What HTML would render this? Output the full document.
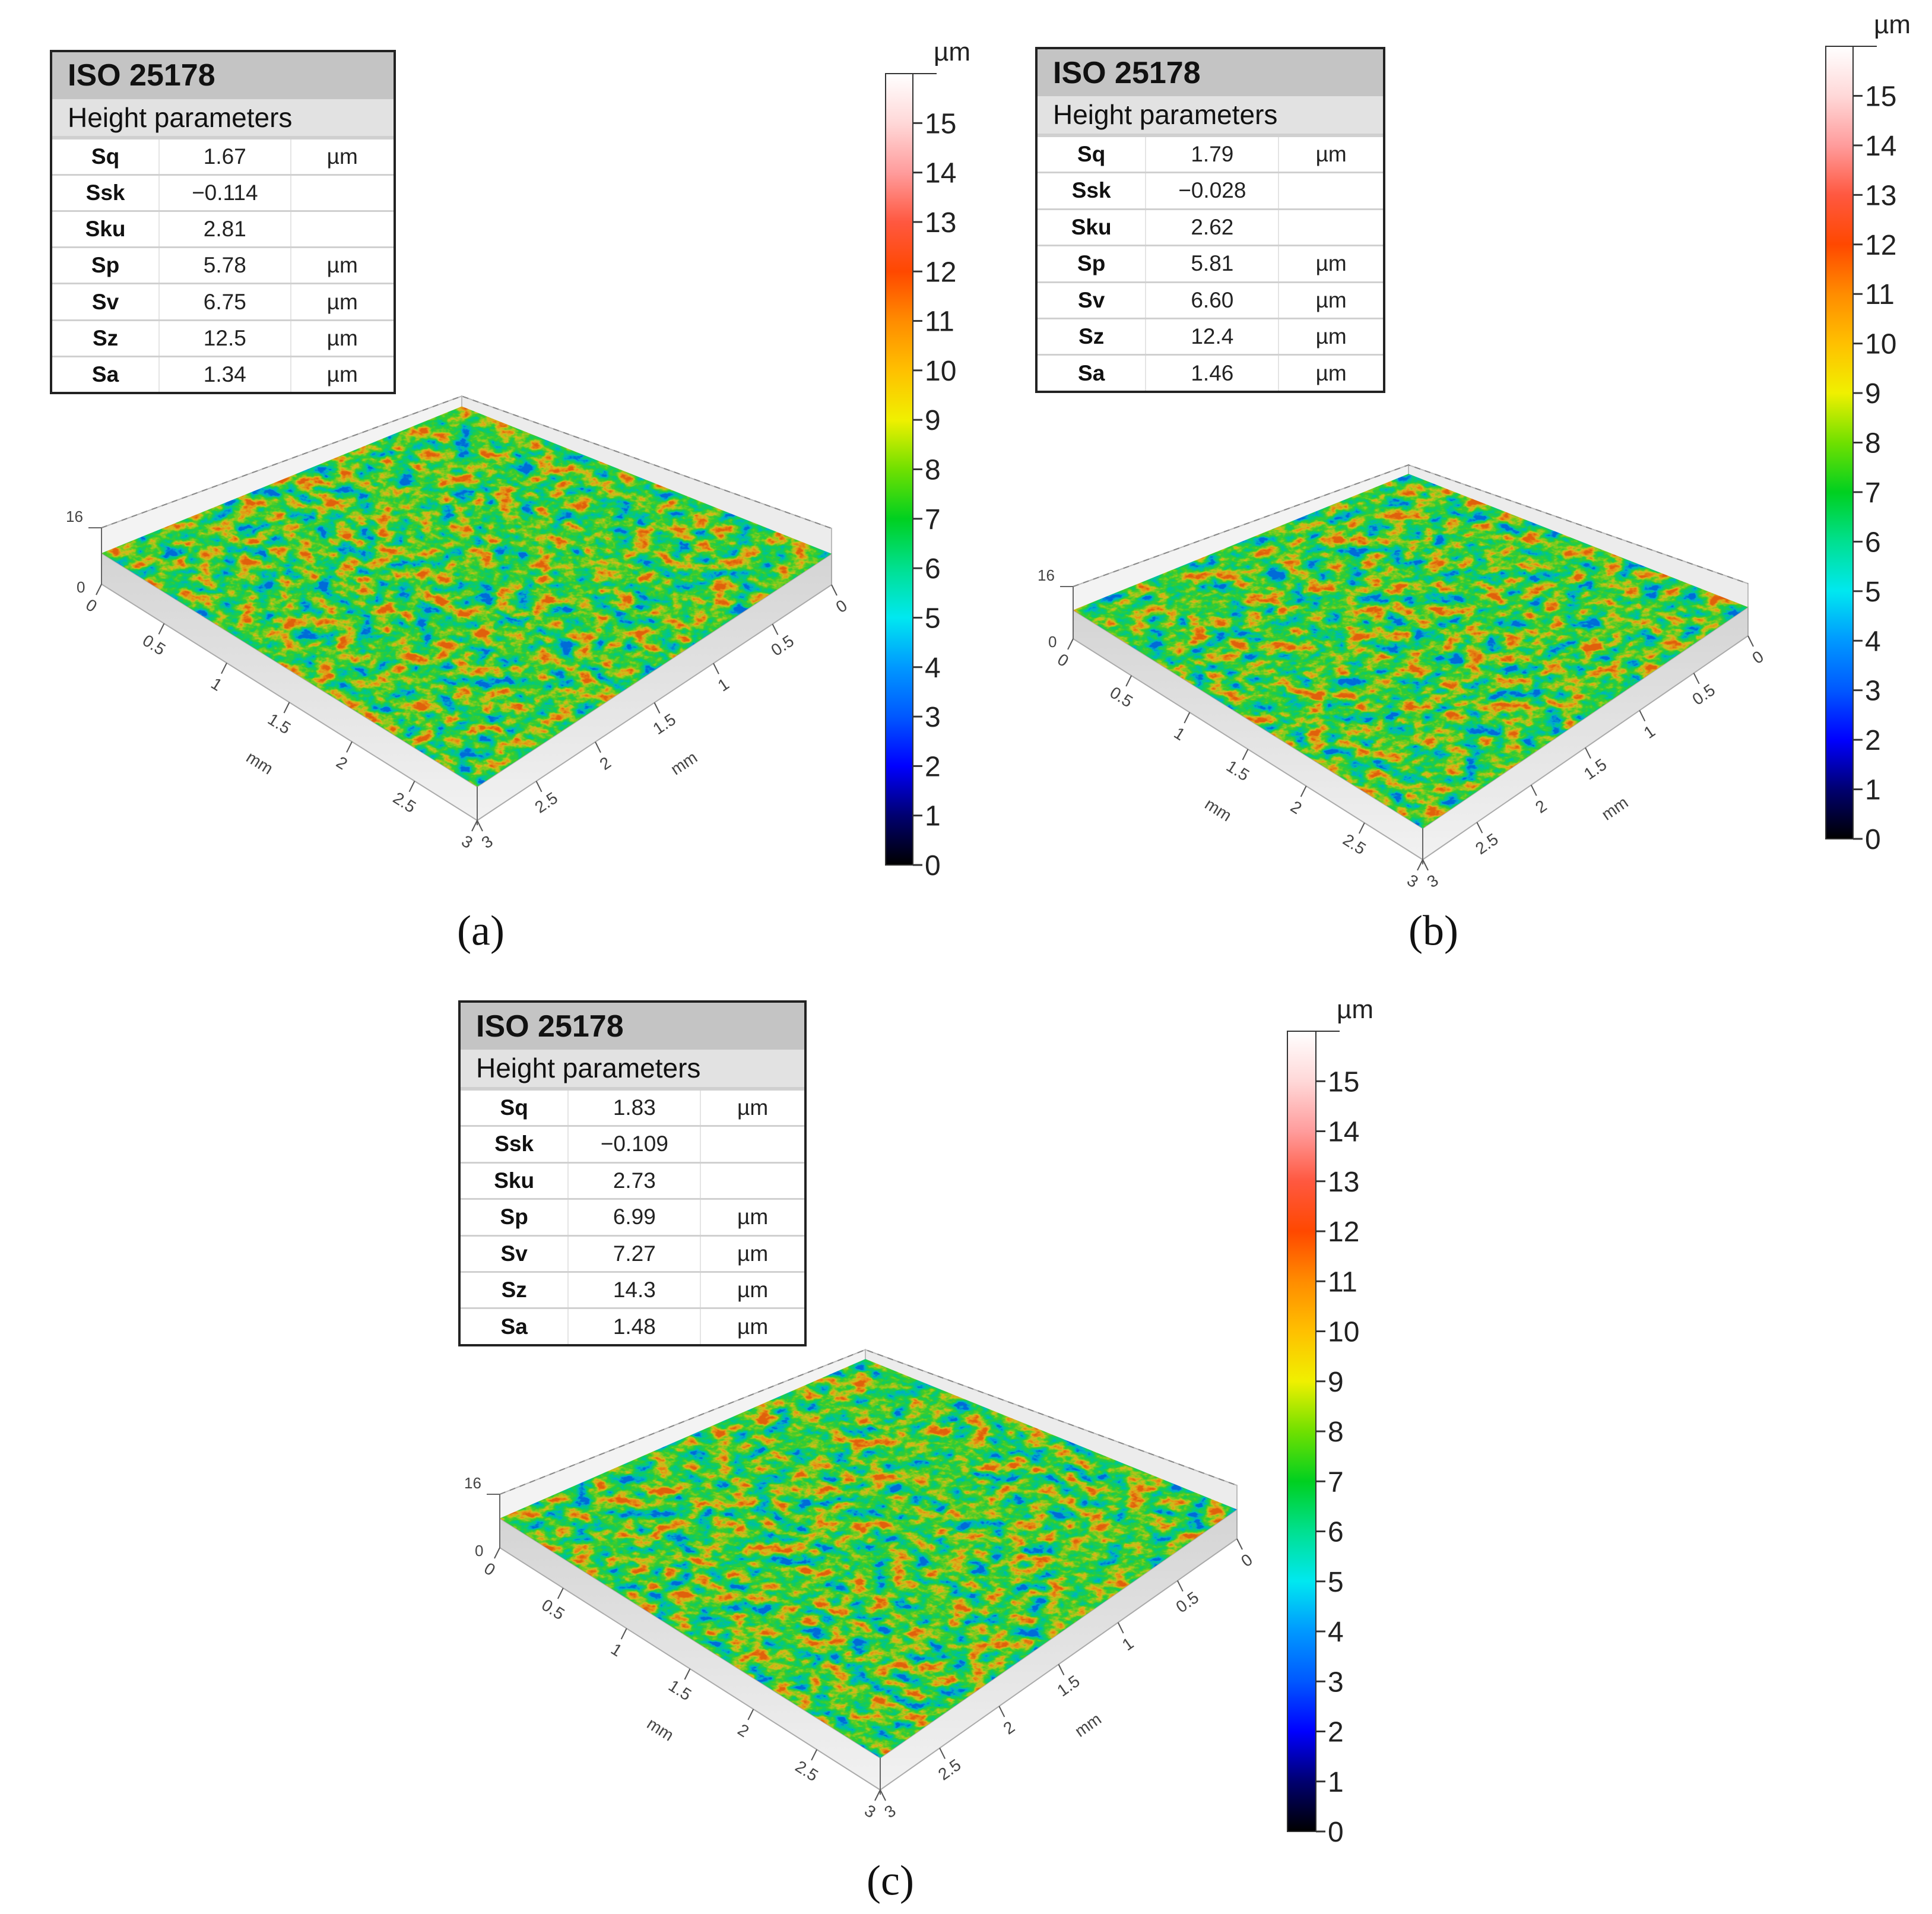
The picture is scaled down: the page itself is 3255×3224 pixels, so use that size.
<!DOCTYPE html>
<html><head><meta charset="utf-8">
<style>
html,body{margin:0;padding:0;background:#fff;}
body{width:3255px;height:3224px;position:relative;overflow:hidden;font-family:"Liberation Sans",Arial,sans-serif;}
.tbl{position:absolute;border:4px solid #222;box-sizing:border-box;background:#fff;}
.tbl .t1{background:#c4c4c4;font-weight:bold;font-size:52px;padding-left:26px;box-sizing:border-box;display:flex;align-items:center;color:#111;}
.tbl .t2{background:#e2e2e2;font-size:46px;padding-left:26px;box-sizing:border-box;display:flex;align-items:center;color:#111;border-bottom:3px solid #cfcfcf;}
.tbl .row{display:flex;border-top:3px solid #d0d0d0;box-sizing:border-box;font-size:37px;color:#222;}
.tbl .row:first-of-type{border-top:none;}
.tbl .c{display:flex;align-items:center;justify-content:center;box-sizing:border-box;}
.tbl .c1{font-weight:bold;color:#111;border-right:2px solid #e4e4e4;}
.tbl .c2{border-right:2px solid #e4e4e4;}
.sub{position:absolute;font-family:"Liberation Serif",serif;font-size:72px;color:#111;transform:translate(-50%,-50%);}
svg{position:absolute;left:0;top:0;}
</style></head>
<body>
<svg id="fig" width="3255" height="3224" viewBox="0 0 3255 3224"></svg>
<script>
// ---- data ----
const paramNames = ["Sq","Ssk","Sku","Sp","Sv","Sz","Sa"];
const paramUnits = ["µm","","","µm","µm","µm","µm"];
const valuesA = ["1.67","\u22120.114","2.81","5.78","6.75","12.5","1.34"];
const valuesB = ["1.79","\u22120.028","2.62","5.81","6.60","12.4","1.46"];
const valuesC = ["1.83","\u22120.109","2.73","6.99","7.27","14.3","1.48"];
const colorbarTicks = [0,1,2,3,4,5,6,7,8,9,10,11,12,13,14,15];
const colorbarMax = 16;
const colorStopValues = [0,1,2,3,4,5,6,7,8,9,10,11,12,13,14,15,16];
const colorStopColors = ["#000000","#000070","#0000ff","#0058ff","#0098ff","#00e8f0","#00e090","#00d020","#70e000","#f0f000","#ffc000","#ff8c00","#ff4800","#ff5840","#ff9c9c","#ffd8d8","#ffffff"];
const axisTicks = [0,0.5,1,1.5,2,2.5,3];
const axisTickLabels = ["0","0.5","1","1.5","2","2.5","3"];
const axisMax = 3;

const panels = [
 {id:"a",vals:valuesA,table:{x:84,y:84,w:583,h:580},bar:{x:1492,top:124,bot:1457,w:46},
  L:[171,984],F:[804,1382],R:[1401,985],B:[778,748],h16:95,lab:[810,1568],seed:3},
 {id:"b",vals:valuesB,table:{x:1744,y:79,w:590,h:583},bar:{x:3076,top:78,bot:1413,w:46},
  L:[1808,1076],F:[2397,1448],R:[2945,1071],B:[2373,858],h16:88,lab:[2415,1568],seed:11},
 {id:"c",vals:valuesC,table:{x:772,y:1685,w:587,h:583},bar:{x:2169,top:1737,bot:3085,w:48},
  L:[842,2607],F:[1483,3015],R:[2084,2592],B:[1458,2350],h16:90,lab:[1500,3168],seed:27}
];

const NS="http://www.w3.org/2000/svg";
const svg=document.getElementById('fig');
function mk(tag,attrs,parent){const e=document.createElementNS(NS,tag);for(const k in attrs)e.setAttribute(k,attrs[k]);(parent||svg).appendChild(e);return e;}
const defs=mk('defs',{});

const grad=mk('linearGradient',{id:'cbgrad',x1:'0',y1:'1',x2:'0',y2:'0'},defs);
colorStopValues.forEach((v,i)=>{mk('stop',{offset:(v/colorbarMax),'stop-color':colorStopColors[i]},grad);});
const sideGrad=mk('linearGradient',{id:'sidegrad',x1:'0',y1:'0',x2:'0',y2:'1'},defs);
mk('stop',{offset:0,'stop-color':'#d4d4d4'},sideGrad);mk('stop',{offset:1,'stop-color':'#f2f2f2'},sideGrad);

function up(p,h){return [p[0],p[1]-h];}
function pts(a){return a.map(p=>p[0]+','+p[1]).join(' ');}
function lerp(a,b,t){return [a[0]+(b[0]-a[0])*t,a[1]+(b[1]-a[1])*t];}

panels.forEach(P=>{
  const t=document.createElement('div');
  t.className='tbl';
  
  
  t.style.left=P.table.x+'px';t.style.top=P.table.y+'px';t.style.width=P.table.w+'px';t.style.height=P.table.h+'px';
  const titleH=P.table.h*0.136, subH=P.table.h*0.112, rowH=(P.table.h-8-titleH-subH)/7;
  const w=P.table.w-8, c1=w*0.315, c2=w*0.385, c3=w-c1-c2;
  let html='<div class="t1" style="height:'+titleH+'px">ISO 25178</div>';
  html+='<div class="t2" style="height:'+subH+'px">Height parameters</div>';
  paramNames.forEach((n,i)=>{
    html+='<div class="row" style="height:'+rowH+'px"><div class="c c1" style="width:'+c1+'px">'+n+'</div><div class="c c2" style="width:'+c2+'px">'+P.vals[i]+'</div><div class="c" style="width:'+c3+'px">'+paramUnits[i]+'</div></div>';
  });
  t.innerHTML=html;
  document.body.appendChild(t);

  const g=mk('g',{});
  
  
  const b=P.bar;
  const yv=v=>b.bot-(b.bot-b.top)*v/colorbarMax;
  mk('rect',{x:b.x,y:b.top,width:b.w,height:b.bot-b.top,fill:'url(#cbgrad)',stroke:'#333','stroke-width':2},g);
  mk('line',{x1:b.x+b.w,y1:b.top,x2:b.x+b.w+40,y2:b.top,stroke:'#333','stroke-width':2},g);
  colorbarTicks.forEach(v=>{
    const y=yv(v);
    mk('line',{x1:b.x+b.w,y1:y,x2:b.x+b.w+16,y2:y,stroke:'#333','stroke-width':3},g);
    const tx=mk('text',{x:b.x+b.w+20,y:y+17,'font-size':48,fill:'#222','font-family':'Liberation Sans, sans-serif'},g);
    tx.textContent=v;
  });
  const um=mk('text',{x:b.x+b.w+35,y:b.top-22,'font-size':44,fill:'#222','font-family':'Liberation Sans, sans-serif'},g);
  um.textContent='µm';

  const s=mk('g',{});
  
  
  const h=P.h16, hb=h*0.85;
  const L0=P.L,F0=P.F,R0=P.R,B0=P.B;
  const L16=up(L0,h),B16=up(B0,hb),R16=up(R0,h);
  mk('polygon',{points:pts([L0,L16,B16,B0]),fill:'#f3f3f3',stroke:'#bbb','stroke-width':2},s);
  mk('polygon',{points:pts([B0,B16,R16,R0]),fill:'#ececec',stroke:'#bbb','stroke-width':2},s);
  mk('polyline',{points:pts([L16,B16,R16]),fill:'none',stroke:'#888','stroke-width':2,'stroke-dasharray':'10 8'},s);
  const sh=h*0.55, shb=hb*0.6;
  const Lt=up(L0,sh),Ft=up(F0,h*0.6),Rt=up(R0,sh),Bt=up(B0,shb+15);
  mk('polygon',{points:pts([Lt,Ft,F0,L0]),fill:'url(#sidegrad)',stroke:'#aaa','stroke-width':2},s);
  mk('polygon',{points:pts([Ft,Rt,R0,F0]),fill:'url(#sidegrad)',stroke:'#aaa','stroke-width':2},s);
  const xs=[Lt[0],Ft[0],Rt[0],Bt[0]],ys=[Lt[1],Ft[1],Rt[1],Bt[1]];
  const bx=Math.min(...xs)-20,by=Math.min(...ys)-20,bw=Math.max(...xs)-bx+20,bh=Math.max(...ys)-by+20;
  const f=mk('filter',{id:'noise'+P.id,filterUnits:'userSpaceOnUse',x:bx,y:by,width:bw,height:bh,'color-interpolation-filters':'sRGB'},defs);
  mk('feTurbulence',{type:'fractalNoise',baseFrequency:'0.03 0.05',numOctaves:4,seed:P.seed,result:'n'},f);
  mk('feColorMatrix',{type:'matrix',values:'1 0 0 0 0  1 0 0 0 0  1 0 0 0 0  0 0 0 0 1'},f);
  const ct=mk('feComponentTransfer',{},f);
  mk('feFuncR',{type:'linear',slope:1.9,intercept:-0.45},ct);mk('feFuncG',{type:'linear',slope:1.9,intercept:-0.45},ct);mk('feFuncB',{type:'linear',slope:1.9,intercept:-0.45},ct);
  const pal=mk('feComponentTransfer',{},f);
  mk('feFuncR',{type:'table',tableValues:'0 0 0 0.08 0.22 0.5 0.82 0.9 0.88'},pal);
  mk('feFuncG',{type:'table',tableValues:'0.42 0.68 0.78 0.8 0.8 0.8 0.74 0.56 0.38'},pal);
  mk('feFuncB',{type:'table',tableValues:'0.85 0.8 0.55 0.35 0.18 0.12 0.1 0.08 0.05'},pal);
  mk('feFuncA',{type:'linear',slope:0,intercept:1},pal);
  const cp=mk('clipPath',{id:'clip'+P.id},defs);
  mk('polygon',{points:pts([Lt,Bt,Rt,Ft])},cp);
  const tg=mk('g',{'clip-path':'url(#clip'+P.id+')'},s);
  mk('rect',{x:bx,y:by,width:bw,height:bh,fill:'#3c3',filter:'url(#noise'+P.id+')'},tg);
  mk('line',{x1:F0[0],y1:F0[1]-h*0.6,x2:F0[0],y2:F0[1]+8,stroke:'#666','stroke-width':2},s);
  mk('line',{x1:L0[0],y1:L0[1],x2:L16[0],y2:L16[1],stroke:'#666','stroke-width':2},s);
  mk('line',{x1:L16[0],y1:L16[1],x2:L16[0]-22,y2:L16[1],stroke:'#666','stroke-width':2},s);
  const t16=mk('text',{x:L16[0]-60,y:L16[1]-10,'font-size':26,fill:'#444'},s);t16.textContent='16';
  const t0=mk('text',{x:L0[0]-42,y:L0[1]+14,'font-size':26,fill:'#444'},s);t0.textContent='0';
  function axis(A,Bp,dir,name){
    const ax=mk('g',{});
    
    
    let ang=Math.atan2(Bp[1]-A[1],Bp[0]-A[0])*180/Math.PI;
    if(ang>90) ang-=180;
    const ox=dir*0.5, oy=1;
    axisTicks.forEach((v,i)=>{
      const p=lerp(A,Bp,v/axisMax);
      mk('line',{x1:p[0],y1:p[1],x2:p[0]+ox*18,y2:p[1]+oy*18,stroke:'#555','stroke-width':2},ax);
      const tx=mk('text',{x:p[0]+ox*44,y:p[1]+oy*44,'font-size':28,fill:'#444','text-anchor':'middle','transform':'rotate('+(ang)+' '+(p[0]+ox*44)+' '+(p[1]+oy*44)+')'},ax);
      tx.textContent=axisTickLabels[i];
    });
    const m=lerp(A,Bp,0.5);
    const mx=m[0]+ox*110,my=m[1]+oy*110;
    const mm=mk('text',{x:mx,y:my,'font-size':28,fill:'#444','text-anchor':'middle',transform:'rotate('+ang+' '+mx+' '+my+')'},ax);
    mm.textContent='mm';
    s.appendChild(ax);
  }
  axis(L0,F0,-1,'x-axis-'+P.id);
  axis(R0,F0,1,'y-axis-'+P.id);

  const lab=document.createElement('div');
  lab.className='sub';
  
  
  lab.style.left=P.lab[0]+'px';lab.style.top=P.lab[1]+'px';
  lab.textContent='('+P.id+')';
  document.body.appendChild(lab);
});
</script>
</body></html>
